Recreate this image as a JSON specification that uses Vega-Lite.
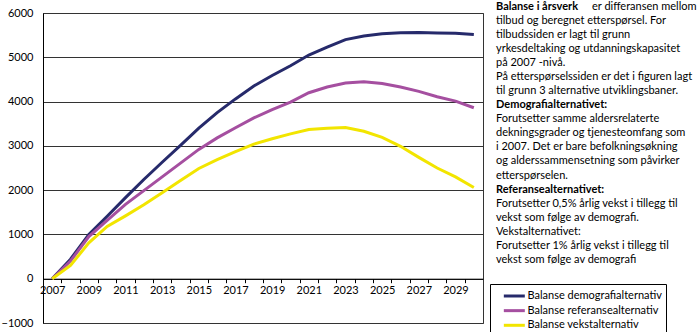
{
  "$schema": "https://vega.github.io/schema/vega-lite/v6.json",
  "padding": 0,
  "spacing": 12,
  "background": "white",
  "config": {
    "view": {"stroke": null},
    "font": "Lato",
    "axis": {"labelFont": "Lato", "labelFontSize": 11, "labelColor": "#000", "title": null},
    "legend": {"labelFont": "Lato"}
  },
  "datasets": {
    "series": [
      {"year": 2007, "series": "Balanse demografialternativ", "value": 0},
      {"year": 2008, "series": "Balanse demografialternativ", "value": 440},
      {"year": 2009, "series": "Balanse demografialternativ", "value": 1000},
      {"year": 2010, "series": "Balanse demografialternativ", "value": 1410},
      {"year": 2011, "series": "Balanse demografialternativ", "value": 1830},
      {"year": 2012, "series": "Balanse demografialternativ", "value": 2240},
      {"year": 2013, "series": "Balanse demografialternativ", "value": 2630},
      {"year": 2014, "series": "Balanse demografialternativ", "value": 3010},
      {"year": 2015, "series": "Balanse demografialternativ", "value": 3400},
      {"year": 2016, "series": "Balanse demografialternativ", "value": 3750},
      {"year": 2017, "series": "Balanse demografialternativ", "value": 4060},
      {"year": 2018, "series": "Balanse demografialternativ", "value": 4350},
      {"year": 2019, "series": "Balanse demografialternativ", "value": 4590},
      {"year": 2020, "series": "Balanse demografialternativ", "value": 4810},
      {"year": 2021, "series": "Balanse demografialternativ", "value": 5050},
      {"year": 2022, "series": "Balanse demografialternativ", "value": 5230},
      {"year": 2023, "series": "Balanse demografialternativ", "value": 5400},
      {"year": 2024, "series": "Balanse demografialternativ", "value": 5480},
      {"year": 2025, "series": "Balanse demografialternativ", "value": 5530},
      {"year": 2026, "series": "Balanse demografialternativ", "value": 5555},
      {"year": 2027, "series": "Balanse demografialternativ", "value": 5560},
      {"year": 2028, "series": "Balanse demografialternativ", "value": 5550},
      {"year": 2029, "series": "Balanse demografialternativ", "value": 5545},
      {"year": 2030, "series": "Balanse demografialternativ", "value": 5515},
      {"year": 2007, "series": "Balanse referansealternativ", "value": 0},
      {"year": 2008, "series": "Balanse referansealternativ", "value": 400},
      {"year": 2009, "series": "Balanse referansealternativ", "value": 950},
      {"year": 2010, "series": "Balanse referansealternativ", "value": 1320},
      {"year": 2011, "series": "Balanse referansealternativ", "value": 1680},
      {"year": 2012, "series": "Balanse referansealternativ", "value": 1990},
      {"year": 2013, "series": "Balanse referansealternativ", "value": 2300},
      {"year": 2014, "series": "Balanse referansealternativ", "value": 2610},
      {"year": 2015, "series": "Balanse referansealternativ", "value": 2920},
      {"year": 2016, "series": "Balanse referansealternativ", "value": 3180},
      {"year": 2017, "series": "Balanse referansealternativ", "value": 3410},
      {"year": 2018, "series": "Balanse referansealternativ", "value": 3630},
      {"year": 2019, "series": "Balanse referansealternativ", "value": 3820},
      {"year": 2020, "series": "Balanse referansealternativ", "value": 3990},
      {"year": 2021, "series": "Balanse referansealternativ", "value": 4200},
      {"year": 2022, "series": "Balanse referansealternativ", "value": 4330},
      {"year": 2023, "series": "Balanse referansealternativ", "value": 4420},
      {"year": 2024, "series": "Balanse referansealternativ", "value": 4450},
      {"year": 2025, "series": "Balanse referansealternativ", "value": 4410},
      {"year": 2026, "series": "Balanse referansealternativ", "value": 4330},
      {"year": 2027, "series": "Balanse referansealternativ", "value": 4230},
      {"year": 2028, "series": "Balanse referansealternativ", "value": 4110},
      {"year": 2029, "series": "Balanse referansealternativ", "value": 4010},
      {"year": 2030, "series": "Balanse referansealternativ", "value": 3860},
      {"year": 2007, "series": "Balanse vekstalternativ", "value": 0},
      {"year": 2008, "series": "Balanse vekstalternativ", "value": 300},
      {"year": 2009, "series": "Balanse vekstalternativ", "value": 810},
      {"year": 2010, "series": "Balanse vekstalternativ", "value": 1180},
      {"year": 2011, "series": "Balanse vekstalternativ", "value": 1420},
      {"year": 2012, "series": "Balanse vekstalternativ", "value": 1670},
      {"year": 2013, "series": "Balanse vekstalternativ", "value": 1940},
      {"year": 2014, "series": "Balanse vekstalternativ", "value": 2220},
      {"year": 2015, "series": "Balanse vekstalternativ", "value": 2490},
      {"year": 2016, "series": "Balanse vekstalternativ", "value": 2690},
      {"year": 2017, "series": "Balanse vekstalternativ", "value": 2870},
      {"year": 2018, "series": "Balanse vekstalternativ", "value": 3040},
      {"year": 2019, "series": "Balanse vekstalternativ", "value": 3160},
      {"year": 2020, "series": "Balanse vekstalternativ", "value": 3270},
      {"year": 2021, "series": "Balanse vekstalternativ", "value": 3370},
      {"year": 2022, "series": "Balanse vekstalternativ", "value": 3400},
      {"year": 2023, "series": "Balanse vekstalternativ", "value": 3415},
      {"year": 2024, "series": "Balanse vekstalternativ", "value": 3330},
      {"year": 2025, "series": "Balanse vekstalternativ", "value": 3190},
      {"year": 2026, "series": "Balanse vekstalternativ", "value": 2990},
      {"year": 2027, "series": "Balanse vekstalternativ", "value": 2740},
      {"year": 2028, "series": "Balanse vekstalternativ", "value": 2500},
      {"year": 2029, "series": "Balanse vekstalternativ", "value": 2300},
      {"year": 2030, "series": "Balanse vekstalternativ", "value": 2060}
    ],
    "notes": [
      {"line": 0, "style": "bold", "text": "Balanse i årsverk"},
      {"line": 0, "style": "after", "text": "er differansen mellom"},
      {"line": 1, "style": "regular", "text": "tilbud og beregnet etterspørsel. For"},
      {"line": 2, "style": "regular", "text": "tilbudssiden er lagt til grunn"},
      {"line": 3, "style": "regular", "text": "yrkesdeltaking og utdanningskapasitet"},
      {"line": 4, "style": "regular", "text": "på 2007 -nivå."},
      {"line": 5, "style": "regular", "text": "På etterspørselssiden er det i figuren lagt"},
      {"line": 6, "style": "regular", "text": "til grunn 3 alternative utviklingsbaner."},
      {"line": 7, "style": "bold", "text": "Demografialternativet:"},
      {"line": 8, "style": "regular", "text": "Forutsetter samme aldersrelaterte"},
      {"line": 9, "style": "regular", "text": "dekningsgrader og tjenesteomfang som"},
      {"line": 10, "style": "regular", "text": "i 2007. Det er bare befolkningsøkning"},
      {"line": 11, "style": "regular", "text": "og alderssammensetning som påvirker"},
      {"line": 12, "style": "regular", "text": "etterspørselen."},
      {"line": 13, "style": "bold", "text": "Referansealternativet:"},
      {"line": 14, "style": "regular", "text": "Forutsetter 0,5% årlig vekst i tillegg til"},
      {"line": 15, "style": "regular", "text": "vekst som følge av demografi."},
      {"line": 16, "style": "regular", "text": "Vekstalternativet:"},
      {"line": 17, "style": "regular", "text": "Forutsetter 1% årlig vekst i tillegg til"},
      {"line": 18, "style": "regular", "text": "vekst som følge av demografi"}
    ]
  },
  "hconcat": [
    {
      "width": 440,
      "height": 310,
      "view": {"stroke": "#333"},
      "data": {"name": "series"},
      "mark": {"type": "line", "strokeWidth": 3},
      "encoding": {
        "x": {
          "field": "year",
          "type": "ordinal",
          "scale": {"type": "point", "padding": 0.5},
          "axis": {
            "labelAngle": 0,
            "labelExpr": "datum.value % 2 == 1 ? datum.value : ''",
            "offset": -44.3,
            "tickOffset": -9.17,
            "labelOffset": 9.17,
            "tickSize": 4,
            "tickColor": "#000",
            "domainColor": "#000",
            "labelPadding": 2,
            "grid": false
          }
        },
        "y": {
          "field": "value",
          "type": "quantitative",
          "scale": {"domain": [-1000, 6000], "nice": false},
          "axis": {
            "values": [-1000, 0, 1000, 2000, 3000, 4000, 5000, 6000],
            "format": "d",
            "grid": true,
            "gridColor": "#333",
            "gridOpacity": 1,
            "ticks": false,
            "domainColor": "#000",
            "labelPadding": 10,
            "minExtent": 39,
            "maxExtent": 39
          }
        },
        "color": {
          "field": "series",
          "type": "nominal",
          "scale": {
            "domain": ["Balanse demografialternativ", "Balanse referansealternativ", "Balanse vekstalternativ"],
            "range": ["#262A6B", "#A54FA0", "#F2E500"]
          },
          "legend": {
            "orient": "none",
            "legendX": 447,
            "legendY": 271,
            "title": null,
            "strokeColor": "#000",
            "fillColor": "white",
            "padding": 4,
            "symbolType": "M0.28,0H3.51",
            "symbolStrokeWidth": 3,
            "symbolSize": 169,
            "labelOffset": 17.5,
            "labelFontSize": 11,
            "labelColor": "#000",
            "rowPadding": 0.65
          }
        }
      }
    },
    {
      "width": 209,
      "height": 253.3,
      "data": {"name": "notes"},
      "encoding": {
        "x": {"value": 0},
        "y": {
          "field": "line",
          "type": "quantitative",
          "scale": {"domain": [0.448, 18.448], "reverse": true, "nice": false, "zero": false},
          "axis": null
        },
        "text": {"field": "text"}
      },
      "layer": [
        {
          "transform": [{"filter": "datum.style == 'bold'"}],
          "mark": {"type": "text", "align": "left", "baseline": "middle", "fontSize": 11, "fontWeight": "bold", "color": "#000"}
        },
        {
          "transform": [{"filter": "datum.style == 'regular'"}],
          "mark": {"type": "text", "align": "left", "baseline": "middle", "fontSize": 11, "color": "#000"}
        },
        {
          "transform": [{"filter": "datum.style == 'after'"}],
          "mark": {"type": "text", "align": "left", "baseline": "middle", "fontSize": 11, "dx": 96, "color": "#000"}
        }
      ]
    }
  ]
}
